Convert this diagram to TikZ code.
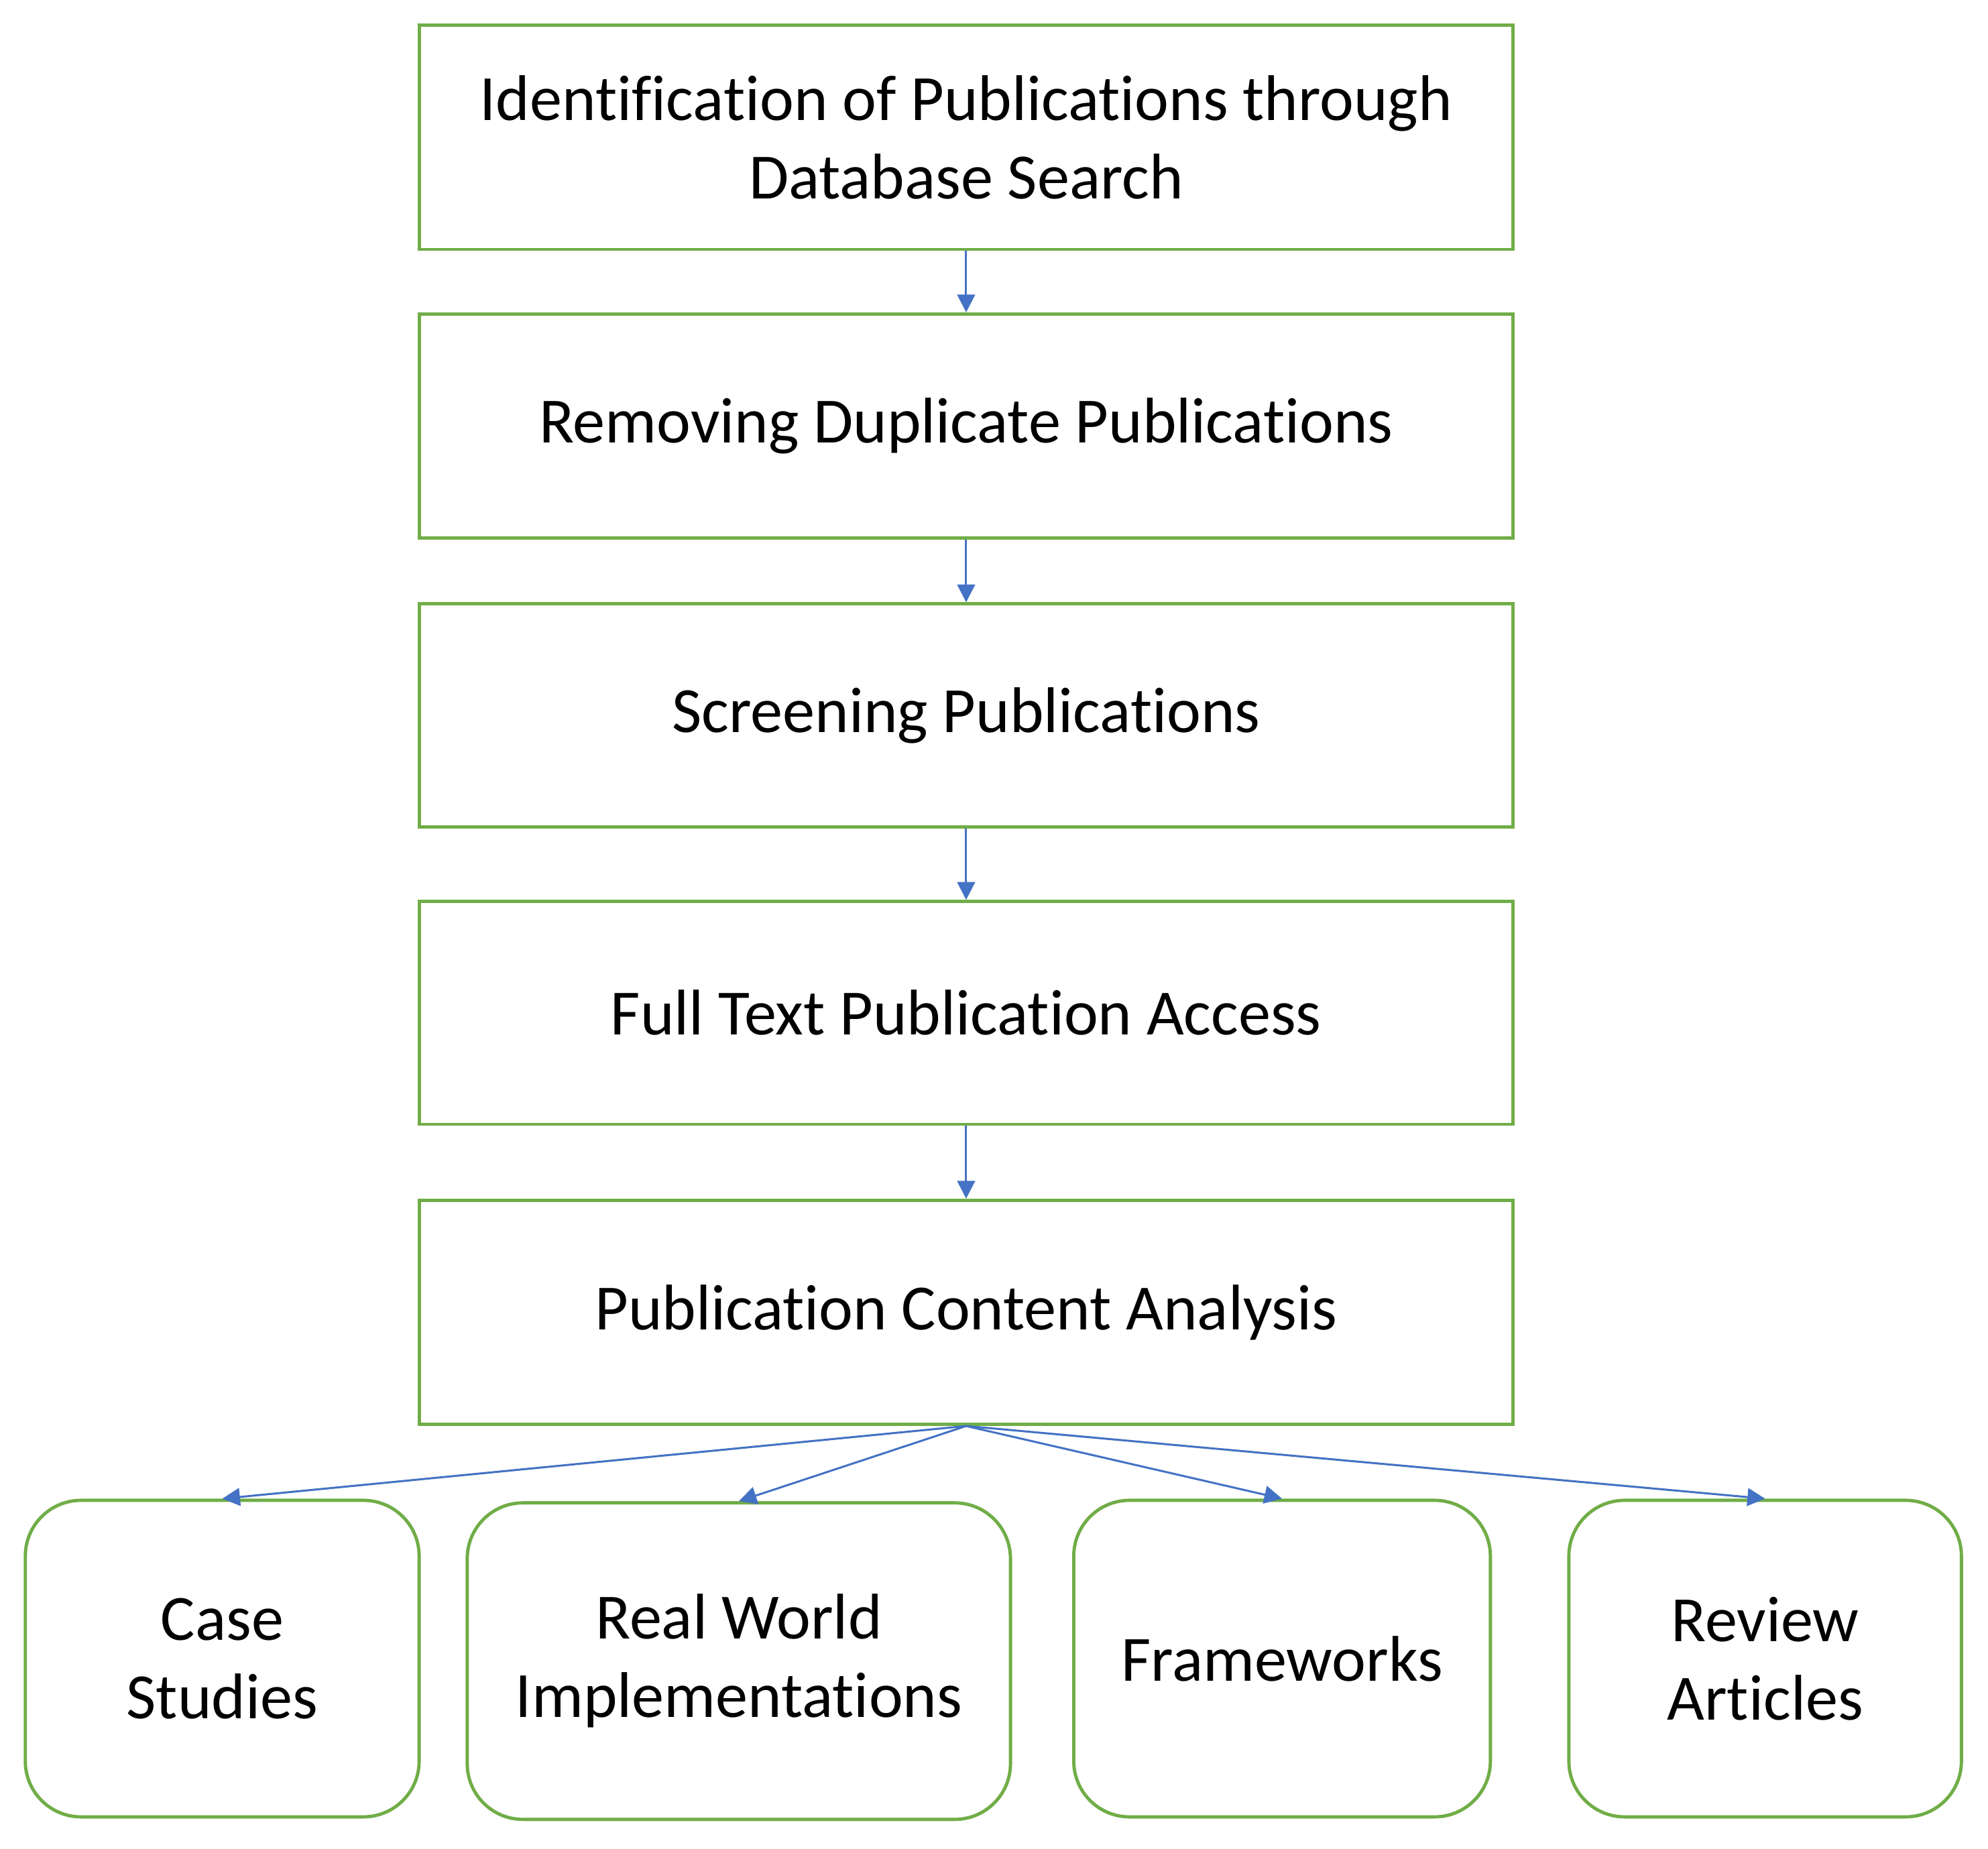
\documentclass[tikz,border=0pt]{standalone}
\usepackage{fontspec}
\setmainfont{Carlito}[RawFeature=-liga]
\usetikzlibrary{arrows.meta}
\definecolor{gr}{HTML}{70AD47}
\definecolor{bl}{HTML}{4472C4}
\begin{document}
\begin{tikzpicture}[x=0.5pt,y=-0.5pt,
 box/.style={draw=gr,line width=1.3pt,align=center,font=\fontsize{25.5}{31}\selectfont,inner sep=0pt},
 rbox/.style={box,rounded corners=22pt},
 arr/.style={draw=bl,line width=0.8pt,-{Triangle[length=7pt,width=7pt]}}]
\useasboundingbox (0,0) rectangle (1570,1460);
\node[box,minimum width=432pt,minimum height=88.5pt] (a) at (763,108.5) {Identification of Publications through\\Database Search};
\node[box,minimum width=432pt,minimum height=88.5pt] (b) at (763,336.5) {Removing Duplicate Publications};
\node[box,minimum width=432pt,minimum height=88pt] (c) at (763,565) {Screening Publications};
\node[box,minimum width=432pt,minimum height=88pt] (d) at (763,800) {Full Text Publication Access};
\node[box,minimum width=432pt,minimum height=88.5pt] (e) at (763,1036.5) {Publication Content Analysis};
\node[rbox,minimum width=155.5pt,minimum height=125pt] (f1) at (175.5,1310) {Case\\Studies};
\node[rbox,minimum width=214.5pt,minimum height=125pt] (f2) at (583.5,1312) {Real World\\Implementations};
\node[rbox,minimum width=164.5pt,minimum height=125pt] (f3) at (1012.5,1310) {Frameworks};
\node[rbox,minimum width=155pt,minimum height=125pt] (f4) at (1394,1310) {Review\\Articles};
\draw[arr] (a) -- (b);
\draw[arr] (b) -- (c);
\draw[arr] (c) -- (d);
\draw[arr] (d) -- (e);
\draw[arr] (e.south) -- (f1.north);
\draw[arr] (e.south) -- (f2.north);
\draw[arr] (e.south) -- (f3.north);
\draw[arr] (e.south) -- (f4.north);
\end{tikzpicture}
\end{document}
